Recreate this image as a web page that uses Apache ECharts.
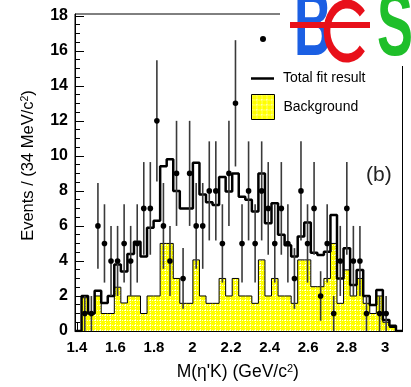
<!DOCTYPE html>
<html><head><meta charset="utf-8">
<script src="https://cdn.jsdelivr.net/npm/echarts@6/dist/echarts.min.js"></script>
<style>html,body{margin:0;padding:0;background:#fff}#c{width:411px;height:387px}</style>
</head><body><div id="c"></div>
<script>
// ---- data ----
const xMin = 1.39;          // GeV/c^2, left edge of first bin
const binWidth = 0.034;     // 34 MeV/c^2
const nBins = 50;
const dataCounts = [0,1,1,6,5,4,4,5,4,5, 7,7,12,6,4,9,3,9,6,6, 8,8,5,9,13,5,8,5,8,7, 5,7,5,3,8,5,7,2,5,1, 4,7,4,4,1,0,1,1,0,0];
const fitValues = [0,2.0,1.0,2.3,1.6,2.0,3.8,3.4,4.4,5.1, 4.25,5.9,6.3,9.4,9.8,8.0,7.0,7.0,9.6,7.8, 7.35,7.2,8.8,7.96,9.0,7.67,7.49,6.82,9.0,6.15, 7.3,5.5,4.9,4.25,5.4,6.2,4.47,4.34,4.53,6.63, 3.0,4.72,2.63,3.49,2.0,1.49,2.34,0.63,0.3,0];
const bgValues = [0,1.9,1.0,2.0,1.0,1.0,2.5,1.6,2.0,2.0, 1.0,2.0,2.0,5.0,5.0,3.0,1.58,1.58,4.06,2.0, 1.58,1.58,3.0,2.0,3.0,2.0,2.0,1.58,4.06,2.0, 3.0,2.0,2.0,1.58,4.06,4.06,2.53,2.53,3.0,5.0, 1.58,3.49,2.0,3.0,1.58,1.0,2.0,0.5,0.2,0];
const xTickLabels = [1.4,1.6,1.8,2,2.2,2.4,2.6,2.8,3];
const yTickLabels = [0,2,4,6,8,10,12,14,16,18];
const seriesNames = ['Data','Total fit result','Background'];

// ---- helpers ----
const xMax = xMin + nBins * binWidth;
function histPoints(vals){
  const pts = [];
  for (let i = 0; i < vals.length; i++) {
    const l = xMin + i * binWidth;
    pts.push([l, vals[i]], [l + binWidth, vals[i]]);
  }
  return pts;
}
const xMinor = [];
for (let k = 0; k <= 34; k++) { const v = Math.round((1.40 + k*0.05)*100)/100; if (v < xMax && Math.round(v*100) % 20 !== 0) xMinor.push(v); }
const yMinor = [];
for (let k = 1; k < 36; k++) { if (k % 4 !== 0) yMinor.push(k*0.5); }

function makePattern(){
  const c = document.createElement('canvas'); c.width = 5; c.height = 5;
  const g = c.getContext('2d');
  g.fillStyle = '#ffff00'; g.fillRect(0,0,5,5);
  g.fillStyle = 'rgba(255,255,255,0.8)';
  for (let i = 0; i < 5; i += 2) { g.fillRect(i,0,1,1); g.fillRect(0,i,1,1); }
  return c;
}
const pat = {image: makePattern(), repeat: 'repeat'};
const FONT = 'Liberation Sans';

const chart = echarts.init(document.getElementById('c'), null, {renderer:'canvas'});
chart.setOption({
  animation: false,
  backgroundColor: '#fff',
  grid: {left: 75, right: 8.5, top: 14, bottom: 56, show: true, borderColor: '#000', borderWidth: 1, outerBoundsMode: 'none'},
  xAxis: [{
    type: 'value', min: xMin, max: xMax,
    axisLine: {show: true, onZero: false, lineStyle: {color: '#000', width: 1}},
    axisTick: {show: true, inside: true, length: 8, customValues: xTickLabels, lineStyle: {color: '#000'}},
    axisLabel: {customValues: xTickLabels, fontSize: 15, fontWeight: 'bold', fontFamily: FONT, color: '#000', margin: 9,
      formatter: v => String(Math.round(v*10)/10)},
    splitLine: {show: false},
    name: "M(η'K) (GeV/c{sup|2})", nameLocation: 'middle', nameGap: 32,
    nameTextStyle: {fontSize: 17.5, fontFamily: FONT, color: '#000', padding: [0,2,0,0],
      rich: {sup: {fontSize: 11, fontFamily: FONT, color: '#000', verticalAlign: 'top', padding: [0,0,6,0]}}}
  }, {
    type: 'value', min: xMin, max: xMax, position: 'bottom',
    axisLine: {show: false},
    axisTick: {show: true, inside: true, length: 4, customValues: xMinor, lineStyle: {color: '#000'}},
    axisLabel: {show: false}, splitLine: {show: false}
  }],
  yAxis: [{
    type: 'value', min: 0, max: 18.1,
    axisLine: {show: true, onZero: false, lineStyle: {color: '#000', width: 1}},
    axisTick: {show: true, inside: true, length: 9, customValues: yTickLabels, lineStyle: {color: '#000'}},
    axisLabel: {customValues: yTickLabels, fontSize: 16, fontWeight: 'bold', fontFamily: FONT, color: '#000', margin: 7},
    splitLine: {show: false},
    name: 'Events / (34 MeV/c{sup|2})', nameLocation: 'middle', nameGap: 38, nameRotate: 90,
    nameTextStyle: {fontSize: 16.5, fontFamily: FONT, color: '#000', padding: [0,0,0,14],
      rich: {sup: {fontSize: 10.5, fontFamily: FONT, color: '#000', verticalAlign: 'top', padding: [0,0,6,0]}}}
  }, {
    type: 'value', min: 0, max: 18.1, position: 'left',
    axisLine: {show: false},
    axisTick: {show: true, inside: true, length: 5, customValues: yMinor, lineStyle: {color: '#000'}},
    axisLabel: {show: false}, splitLine: {show: false}
  }],
  legend: [
    {data: [{name: seriesNames[0], icon: 'circle'}], left: 260, top: 36, padding: 0, itemWidth: 6, itemHeight: 6,
      formatter: () => '', selectedMode: false},
    {data: [{name: seriesNames[1], icon: 'rect', itemStyle: {color: '#000'}}], left: 251, top: 71.5, padding: 0,
      itemWidth: 23, itemHeight: 2.5, selectedMode: false,
      textStyle: {fontSize: 14, fontFamily: FONT, color: '#000', padding: [6,0,0,4]}},
    {data: [{name: seriesNames[2], icon: 'rect', itemStyle: {color: pat, borderColor: '#000', borderWidth: 1}}],
      left: 251, top: 94, padding: 0, itemWidth: 23, itemHeight: 25, selectedMode: false,
      textStyle: {fontSize: 14, fontFamily: FONT, color: '#000', padding: [5,0,0,4]}}
  ],
  series: [
    {name: seriesNames[2], type: 'line', data: histPoints(bgValues), symbol: 'none', z: 2,
      lineStyle: {color: '#000', width: 1}, itemStyle: {color: '#ffff00'},
      areaStyle: {color: pat, opacity: 1, origin: 'start'}},
    {name: seriesNames[1], type: 'line', data: histPoints(fitValues), symbol: 'none', z: 3,
      lineStyle: {color: '#000', width: 2.5}, itemStyle: {color: '#000'}},
    {name: seriesNames[0], type: 'custom', z: 5, itemStyle: {color: '#000'},
      data: dataCounts.map((n, i) => [xMin + (i + 0.5) * binWidth, n]).filter(d => d[1] > 0),
      renderItem: function(params, api){
        const x = api.value(0), n = api.value(1), e = Math.sqrt(n);
        const p = api.coord([x, n]), a = api.coord([x, n - e]), b = api.coord([x, n + e]);
        return {type: 'group', children: [
          {type: 'line', shape: {x1: a[0], y1: a[1], x2: b[0], y2: b[1]}, style: {stroke: '#3a3a3a', lineWidth: 1.6}},
          {type: 'circle', shape: {cx: p[0], cy: p[1], r: 2.8}, style: {fill: '#000'}}
        ]};
      }}
  ],
  graphic: [
    {type: 'rect', shape: {x: 280, y: 0, width: 131, height: 66}, style: {fill: '#fff'}, z: 100},
    {type: 'text', x: 294, y: 30, scaleX: 0.58, z: 101,
      style: {text: 'B', font: 'bold 90px "Liberation Sans"', fill: '#1b5fe3', verticalAlign: 'middle'}},
    {type: 'arc', x: 347, y: 31, scaleX: 0.74, z: 102,
      shape: {cx: 0, cy: 0, r: 27, startAngle: 40 * Math.PI / 180, endAngle: 320 * Math.PI / 180, clockwise: true},
      style: {stroke: '#e8101a', lineWidth: 9, fill: 'none'}},
    {type: 'rect', shape: {x: 290, y: 22, width: 80, height: 6}, style: {fill: '#e8101a'}, z: 102},
    {type: 'text', x: 377, y: 30, scaleX: 0.6, z: 101,
      style: {text: 'S', font: 'bold 90px "Liberation Sans"', fill: '#1fbf2a', verticalAlign: 'middle'}},
    {type: 'text', x: 366, y: 175, z: 50,
      style: {text: '(b)', font: '21px "Liberation Sans"', fill: '#222', verticalAlign: 'middle'}}
  ]
});
</script></body></html>
